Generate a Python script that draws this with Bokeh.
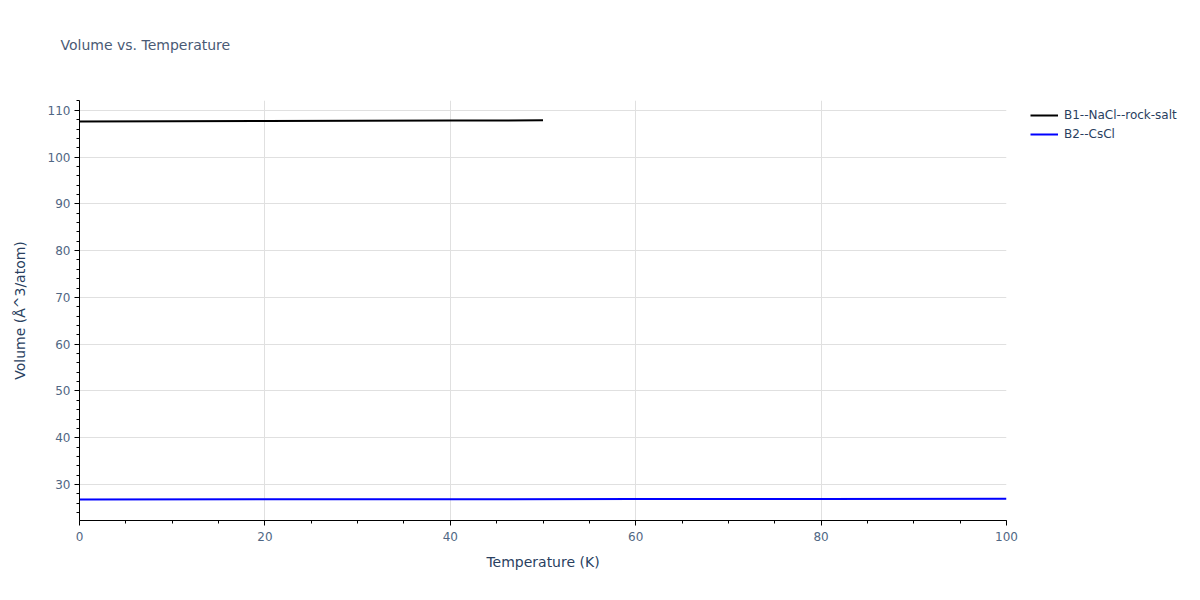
from bokeh.plotting import figure
from bokeh.models import Legend, LegendItem, SingleIntervalTicker, Range1d, Title
from bokeh.embed import file_html
from bokeh.resources import INLINE

# Data
b1_temperature = [0, 10, 20, 30, 40, 50]
b1_volume = [107.60, 107.65, 107.70, 107.75, 107.80, 107.86]
b2_temperature = [0, 20, 40, 60, 80, 100]
b2_volume = [26.80, 26.82, 26.85, 26.88, 26.91, 26.95]
series_names = ["B1--NaCl--rock-salt", "B2--CsCl"]
series_colors = ["#000000", "#0000ff"]

FONT = "DejaVu Sans"
TXT = "#2a3f5f"
TICK_TXT = "#506784"

p = figure(frame_width=927, frame_height=420, output_backend="svg", toolbar_location=None,
           x_range=Range1d(0, 100), y_range=Range1d(22.3, 112.1),
           min_border_left=79, min_border_right=10, min_border_top=100, min_border_bottom=64,
           background_fill_color="white", border_fill_color="white", outline_line_color=None)

p.title.text = "Volume vs. Temperature"
p.title.text_font = FONT
p.title.text_font_size = "14px"
p.title.text_font_style = "normal"
p.title.text_color = "#4a5a75"
p.title.offset = -19
p.title.standoff = 0

# blank spacer panel between frame and title
p.add_layout(Title(text=" ", text_font_size="14px", standoff=30), "above")

r1 = p.line(b1_temperature, b1_volume, line_color=series_colors[0], line_width=2)
r2 = p.line(b2_temperature, b2_volume, line_color=series_colors[1], line_width=2)

p.xaxis.ticker = SingleIntervalTicker(interval=20, num_minor_ticks=4)
p.yaxis.ticker = SingleIntervalTicker(interval=10, num_minor_ticks=5)

for ax in (p.xaxis[0], p.yaxis[0]):
    ax.axis_line_color = "black"
    ax.axis_line_width = 1
    ax.major_tick_line_color = "black"
    ax.minor_tick_line_color = "black"
    ax.major_tick_out = 5
    ax.major_tick_in = 0
    ax.minor_tick_out = 3
    ax.minor_tick_in = 0
    ax.major_label_text_font = FONT
    ax.major_label_text_font_size = "12px"
    ax.major_label_text_color = TICK_TXT
    ax.axis_label_text_font = FONT
    ax.axis_label_text_font_size = "14px"
    ax.axis_label_text_font_style = "normal"
    ax.axis_label_text_color = TXT

p.xaxis.axis_label = "Temperature (K)"
p.yaxis.axis_label = "Volume (Å^3/atom)"
p.xaxis.axis_label_standoff = 10
p.yaxis.axis_label_standoff = 17
p.xaxis.major_label_standoff = 6
p.yaxis.major_label_standoff = 4

p.grid.grid_line_color = "#e0e0e0"
p.grid.grid_line_width = 1

legend = Legend(items=[LegendItem(label=series_names[0], renderers=[r1]),
                       LegendItem(label=series_names[1], renderers=[r2])],
                location=(24, 379), border_line_color=None, background_fill_alpha=0,
                label_text_font=FONT, label_text_font_size="12px", label_text_color=TXT,
                glyph_width=28, glyph_height=14, spacing=5, padding=0, margin=0,
                label_standoff=6, label_height=14)
p.add_layout(legend, "right")

open("out.html", "w").write(file_html(p, INLINE))
